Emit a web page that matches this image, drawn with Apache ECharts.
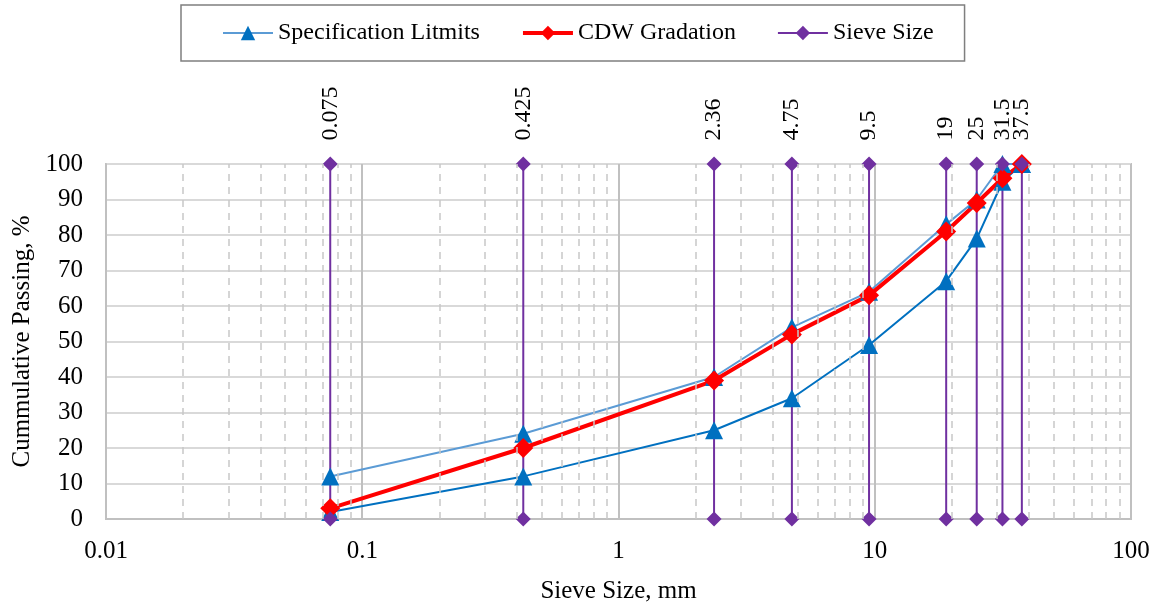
<!DOCTYPE html>
<html>
<head>
<meta charset="utf-8">
<script src="https://cdn.jsdelivr.net/npm/echarts@6/dist/echarts.min.js"></script>
<style>
html,body{margin:0;padding:0;background:#fff;}
#chart{width:1161px;height:603px;}
</style>
</head>
<body>
<div id="chart"></div>
<script>
// Sieve sizes (mm)
const sieves = [0.075, 0.425, 2.36, 4.75, 9.5, 19, 25, 31.5, 37.5];
const sieveLabels = ['0.075', '0.425', '2.36', '4.75', '9.5', '19', '25', '31.5', '37.5'];
// Cumulative passing (%)
const specUpper = [12, 24, 40, 54, 64, 83, 90, 100, 100];
const specLower = [2, 12, 25, 34, 49, 67, 79, 95, 100];
const cdw = [3, 20, 39, 52, 63, 81, 89, 96, 100];
// Axis settings
const xMin = 0.01, xMax = 100;
const yTicks = [0, 10, 20, 30, 40, 50, 60, 70, 80, 90, 100];
const minorMultipliers = [2, 3, 4, 5, 6, 7, 8, 9];
const decades = [0.01, 0.1, 1, 10];

const FONT = "'Liberation Serif', 'Times New Roman', serif";

function pairs(xs, ys) { return xs.map((x, i) => [x, ys[i]]); }

const minorLines = [];
decades.forEach(d => minorMultipliers.forEach(m => minorLines.push({ xAxis: +(d * m).toPrecision(6) })));

const series = [];
// minor gridlines (dashed)
series.push({
  type: 'line', name: '_grid', data: [], silent: true,
  markLine: {
    silent: true, symbol: 'none', animation: false,
    label: { show: false },
    lineStyle: { color: '#c8c8c8', type: [7, 6], width: 1.5 },
    data: minorLines
  }
});
series.push({
  type: 'line', name: 'Specification Litmits', data: pairs(sieves, specUpper),
  symbol: 'triangle', symbolSize: 18,
  lineStyle: { color: '#5B9BD5', width: 2 },
  itemStyle: { color: '#0070C0' },
  clip: false, animation: false
});
series.push({
  type: 'line', name: 'Specification Litmits', data: pairs(sieves, specLower),
  symbol: 'triangle', symbolSize: 18,
  lineStyle: { color: '#0070C0', width: 2 },
  itemStyle: { color: '#0070C0' },
  clip: false, animation: false
});
series.push({
  type: 'line', name: 'CDW Gradation', data: pairs(sieves, cdw),
  symbol: 'diamond', symbolSize: 20,
  lineStyle: { color: '#FF0000', width: 4 },
  itemStyle: { color: '#FF0000' },
  clip: false, animation: false
});
sieves.forEach((s, i) => {
  series.push({
    type: 'line', name: 'Sieve Size',
    data: [
      { value: [s, yTicks[0]], label: { show: false } },
      { value: [s, yTicks[yTicks.length - 1]] }
    ],
    symbol: 'diamond', symbolSize: 15,
    lineStyle: { color: '#7030A0', width: 2 },
    itemStyle: { color: '#7030A0' },
    label: {
      show: true, position: 'top', distance: 16, rotate: 90,
      align: 'left', verticalAlign: 'middle',
      formatter: sieveLabels[i],
      fontFamily: FONT, fontSize: 24, color: '#000'
    },
    clip: false, animation: false
  });
});

const chart = echarts.init(document.getElementById('chart'));
chart.setOption({
  animation: false,
  backgroundColor: '#fff',
  legend: {
    data: [
      { name: 'Specification Litmits', lineStyle: { width: 2, color: '#5B9BD5' } },
      { name: 'CDW Gradation', lineStyle: { width: 4, color: '#FF0000' } },
      { name: 'Sieve Size', lineStyle: { width: 2, color: '#7030A0' } }
    ],
    left: 181, top: 5,
    padding: [16, 31, 16, 41],
    itemGap: 41, itemWidth: 50, itemHeight: 18,
    borderColor: '#7f7f7f', borderWidth: 1.5,
    textStyle: { fontFamily: FONT, fontSize: 24, color: '#000' }
  },
  grid: {
    left: 106, right: 30, top: 164, bottom: 84,
    outerBoundsMode: 'none', containLabel: false,
    show: true, borderColor: '#c0c0c0', borderWidth: 2, backgroundColor: 'transparent'
  },
  xAxis: {
    type: 'log', logBase: 10, min: xMin, max: xMax,
    name: 'Sieve Size, mm', nameLocation: 'middle', nameGap: 60,
    nameTextStyle: { fontFamily: FONT, fontSize: 25, color: '#000' },
    axisLine: { show: true, lineStyle: { color: '#c0c0c0', width: 2 } },
    axisTick: { show: false },
    axisLabel: { fontFamily: FONT, fontSize: 25, color: '#000', margin: 20 },
    splitLine: { show: true, lineStyle: { color: '#c0c0c0', width: 2 } }
  },
  yAxis: {
    type: 'value', min: yTicks[0], max: yTicks[yTicks.length - 1], interval: 10,
    name: 'Cummulative Passing, %', nameLocation: 'middle', nameGap: 68,
    nameTextStyle: { fontFamily: FONT, fontSize: 25, color: '#000' },
    axisLine: { show: true, lineStyle: { color: '#c0c0c0', width: 2 } },
    axisTick: { show: false },
    axisLabel: { fontFamily: FONT, fontSize: 25, color: '#000', margin: 23 },
    splitLine: { show: true, lineStyle: { color: '#d9d9d9', width: 2 } }
  },
  series: series
});
</script>
</body>
</html>
